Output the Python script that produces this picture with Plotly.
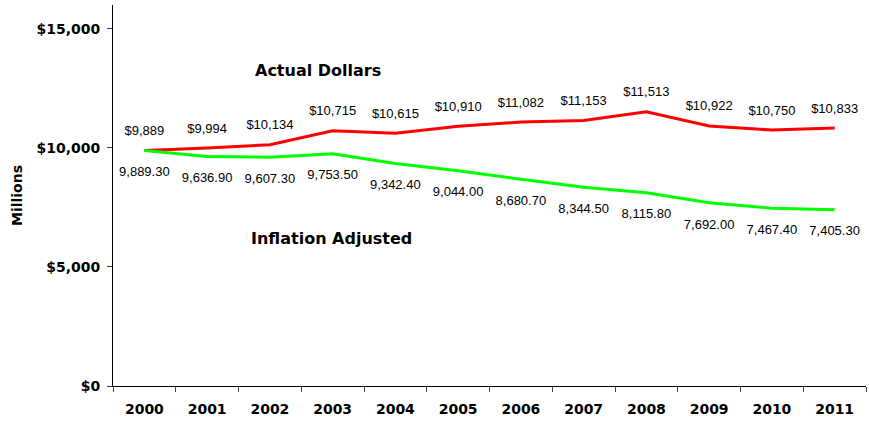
import plotly.graph_objects as go

years = ["2000", "2001", "2002", "2003", "2004", "2005", "2006", "2007", "2008", "2009", "2010", "2011"]
actual = [9889, 9994, 10134, 10715, 10615, 10910, 11082, 11153, 11513, 10922, 10750, 10833]
adjusted = [9889.30, 9636.90, 9607.30, 9753.50, 9342.40, 9044.00, 8680.70, 8344.50, 8115.80, 7692.00, 7467.40, 7405.30]
y_ticks = [0, 5000, 10000, 15000]
y_tick_text = ["$0", "$5,000", "$10,000", "$15,000"]

label_font = dict(family="Liberation Sans, Arial, sans-serif", size=13, color="black")
bold_font = "DejaVu Sans, Verdana, sans-serif"

fig = go.Figure()
fig.add_trace(go.Scatter(
    x=years, y=actual, mode="lines+markers+text",
    line=dict(color="#FF0000", width=3),
    marker=dict(size=18, color="rgba(0,0,0,0)"),
    text=["${:,.0f}".format(v) for v in actual],
    textposition="top center", textfont=label_font,
    cliponaxis=False, showlegend=False, hoverinfo="x+y",
))
fig.add_trace(go.Scatter(
    x=years, y=adjusted, mode="lines+markers+text",
    line=dict(color="#00FF00", width=3),
    marker=dict(size=24, color="rgba(0,0,0,0)"),
    text=["{:,.2f}".format(v) for v in adjusted],
    textposition="bottom center", textfont=label_font,
    cliponaxis=False, showlegend=False, hoverinfo="x+y",
))

fig.add_annotation(x=2.77, y=13250, text="<b>Actual Dollars</b>", showarrow=False,
                   font=dict(family=bold_font, size=16, color="black"))
fig.add_annotation(x=2.98, y=6200, text="<b>Inflation Adjusted</b>", showarrow=False,
                   font=dict(family=bold_font, size=16, color="black"))

fig.update_layout(
    width=869, height=422,
    margin=dict(l=113, r=3, t=5, b=36),
    paper_bgcolor="white", plot_bgcolor="white",
    font=dict(family=bold_font, color="black"),
    xaxis=dict(
        type="category", tickson="boundaries", ticks="outside", ticklen=5,
        showline=True, linecolor="black", linewidth=1, showgrid=False,
        tickfont=dict(family=bold_font, size=14, weight="bold"),
        ticklabelstandoff=10,
        range=[-0.5, 11.5], automargin=False,
    ),
    yaxis=dict(
        range=[0, 16000], tickvals=y_ticks, ticktext=y_tick_text,
        ticks="outside", ticklen=5, showline=True, linecolor="black", linewidth=1,
        showgrid=False, zeroline=False, automargin=False,
        tickfont=dict(family=bold_font, size=14, weight="bold"),
        ticklabelstandoff=4,
        title=dict(text="<b>Millions</b>", standoff=10,
                   font=dict(family=bold_font, size=14)),
    ),
)

fig.write_html("out.html", config={"displayModeBar": False},
               post_script="document.body.style.margin='0';")
